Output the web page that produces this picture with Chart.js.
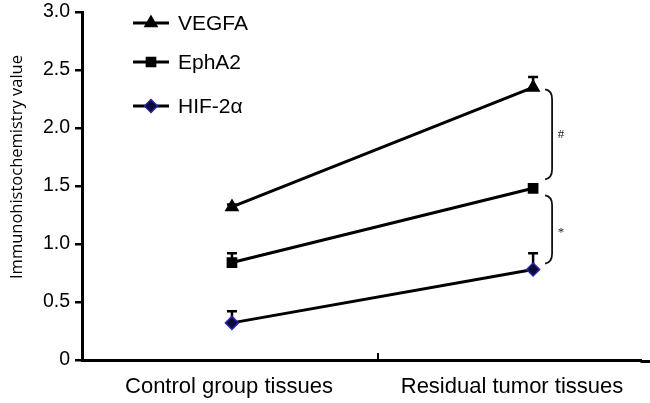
<!DOCTYPE html>
<html>
<head>
<meta charset="utf-8">
<script src="https://cdn.jsdelivr.net/npm/chart.js@4.4.1/dist/chart.umd.min.js"></script>
<style>
  html, body { margin: 0; padding: 0; background: #fff; }
  #wrap { width: 650px; height: 403px; }
</style>
</head>
<body>
<div id="wrap"><canvas id="chart" width="650" height="403"></canvas></div>
<script>
// data
const categories = ['Control group tissues', 'Residual tumor tissues'];
const seriesNames = ['VEGFA', 'EphA2', 'HIF-2\u03b1'];
const vegfa = [1.32, 2.35];
const vegfaErr = [0.02, 0.09];
const epha2 = [0.84, 1.48];
const epha2Err = [0.08, 0.02];
const hif2a = [0.32, 0.78];
const hif2aErr = [0.1, 0.14];
const yTicks = [0, 0.5, 1.0, 1.5, 2.0, 2.5, 3.0];
const yTitle = 'Immunohistochemistry value';
const sigMarks = ['#', '*'];

const xs = [1, 2];
const toPts = arr => arr.map((v, i) => ({ x: xs[i], y: v }));

const errBars = {
    id: 'errBars',
    beforeDatasetsDraw(chart) {
        const { ctx, scales: { x, y } } = chart;
        const errs = [vegfaErr, epha2Err, hif2aErr];
        const vals = [vegfa, epha2, hif2a];
        ctx.save();
        ctx.strokeStyle = '#000';
        ctx.lineWidth = 2.5;
        vals.forEach((arr, s) => {
            arr.forEach((v, i) => {
                const px = x.getPixelForValue(xs[i]);
                const y0 = y.getPixelForValue(v);
                const y1 = y.getPixelForValue(v + errs[s][i]);
                ctx.beginPath();
                ctx.moveTo(px, y0); ctx.lineTo(px, y1);
                ctx.moveTo(px - 5, y1); ctx.lineTo(px + 5, y1);
                ctx.stroke();
            });
        });
        ctx.restore();
    }
};

const extras = {
    id: 'extras',
    afterDraw(chart) {
        const { ctx, scales: { x, y } } = chart;
        ctx.save();
        // x axis runs to the right edge, middle tick points inward
        ctx.strokeStyle = '#000';
        ctx.lineWidth = 3;
        ctx.beginPath();
        ctx.moveTo(chart.chartArea.right - 1, y.bottom + 1.5);
        ctx.lineTo(chart.width, y.bottom + 1.5);
        ctx.stroke();
        const mx = x.getPixelForValue(1.485);
        ctx.lineWidth = 2;
        ctx.beginPath();
        ctx.moveTo(mx, y.bottom); ctx.lineTo(mx, y.bottom - 7);
        ctx.stroke();

        // y axis title, sits a bit above the axis centre
        ctx.save();
        ctx.translate(17, 167);
        ctx.rotate(-Math.PI / 2);
        ctx.fillStyle = '#000';
        ctx.font = '16.5px "Open Sans", sans-serif';
        ctx.textAlign = 'center';
        ctx.textBaseline = 'middle';
        ctx.fillText(yTitle, 0, 0);
        ctx.restore();

        // significance brackets
        const bx = x.getPixelForValue(2) + 12;
        const brace = (top, bot) => {
            ctx.beginPath();
            ctx.moveTo(bx, top);
            ctx.quadraticCurveTo(bx + 7, top + 1, bx + 7, top + 10);
            ctx.lineTo(bx + 7, bot - 10);
            ctx.quadraticCurveTo(bx + 7, bot - 1, bx, bot);
            ctx.stroke();
        };
        ctx.lineWidth = 1.8;
        ctx.strokeStyle = '#111';
        const t1 = y.getPixelForValue(vegfa[1]) + 2, b1 = y.getPixelForValue(epha2[1]) - 9;
        const t2 = y.getPixelForValue(epha2[1]) + 7, b2 = y.getPixelForValue(hif2a[1]) - 6;
        brace(t1, b1);
        brace(t2, b2);
        ctx.fillStyle = '#222';
        ctx.font = '13px "Liberation Serif", serif';
        ctx.textAlign = 'center';
        ctx.textBaseline = 'middle';
        ctx.fillText(sigMarks[0], bx + 16, (t1 + b1) / 2);
        ctx.fillText(sigMarks[1], bx + 16, (t2 + b2) / 2 + 3);

        // legend
        const styles = ['triangle', 'rect', 'rectRot'];
        const ly = [23, 62, 106];
        chart.data.datasets.forEach((ds, i) => {
            ctx.strokeStyle = '#000';
            ctx.lineWidth = 3;
            ctx.beginPath();
            ctx.moveTo(133, ly[i]); ctx.lineTo(169, ly[i]);
            ctx.stroke();
            ctx.fillStyle = ds.pointBackgroundColor;
            ctx.strokeStyle = ds.pointBorderColor;
            ctx.lineWidth = ds.pointBorderWidth;
            Chart.helpers.drawPoint(ctx, {
                pointStyle: styles[i], radius: ds.pointRadius, borderWidth: ds.pointBorderWidth
            }, 151, ly[i]);
            ctx.fillStyle = '#000';
            ctx.font = '21px "Liberation Sans", Arial, sans-serif';
            ctx.textAlign = 'left';
            ctx.textBaseline = 'middle';
            ctx.fillText(ds.label, 178, ly[i] + 1);
        });
        ctx.restore();
    }
};

const lineDs = (label, data, style, radius, fill, border) => ({
    label,
    data: toPts(data),
    borderColor: '#000',
    borderWidth: 3,
    pointStyle: style,
    pointRadius: radius,
    pointHoverRadius: radius,
    pointBackgroundColor: fill,
    pointBorderColor: border,
    pointBorderWidth: 1.5,
    fill: false,
    tension: 0
});

new Chart(document.getElementById('chart'), {
    type: 'line',
    data: {
        datasets: [
            lineDs(seriesNames[0], vegfa, 'triangle', 7, '#000', '#000'),
            lineDs(seriesNames[1], epha2, 'rect', 6.5, '#000', '#000'),
            lineDs(seriesNames[2], hif2a, 'rectRot', 6.5, '#0b0b3a', '#2626a0')
        ]
    },
    options: {
        responsive: false,
        animation: false,
        layout: { padding: { top: 12, right: 0, left: 0, bottom: 0 } },
        plugins: { legend: { display: false }, tooltip: { enabled: false } },
        scales: {
            x: {
                type: 'linear',
                min: 0.502,
                max: 2.36,
                afterBuildTicks: s => { s.ticks = [{ value: 0.99 }, { value: 1.93 }]; },
                afterFit: s => { s.height = 43; s.paddingLeft = 0; s.paddingRight = 0; },
                grid: { display: false },
                border: { color: '#000', width: 3 },
                ticks: {
                    color: '#000',
                    padding: 6,
                    font: { family: '"Liberation Sans", Arial, sans-serif', size: 22 },
                    callback: (v, i) => categories[i]
                }
            },
            y: {
                min: 0,
                max: 3,
                afterBuildTicks: s => { s.ticks = yTicks.map(v => ({ value: v })); },
                afterFit: s => { s.width = 82; s.paddingTop = 0; s.paddingBottom = 0; },
                grid: { drawOnChartArea: false, color: '#000', lineWidth: 2.5, tickLength: 7 },
                border: { color: '#000', width: 3 },
                ticks: {
                    color: '#000',
                    padding: 5,
                    font: { family: '"Liberation Sans", Arial, sans-serif', size: 19.5 },
                    callback: v => v === 0 ? '0' : v.toFixed(1)
                }
            }
        }
    },
    plugins: [errBars, extras]
});
</script>
</body>
</html>
